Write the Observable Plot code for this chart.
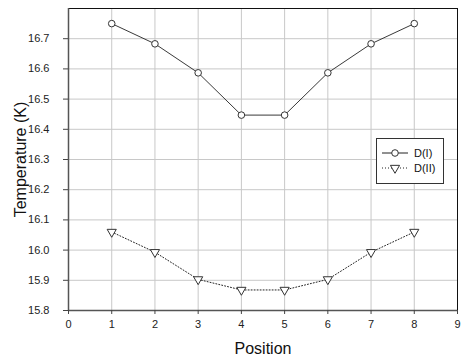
<!DOCTYPE html>
<html><head><meta charset="utf-8">
<script src="https://cdn.jsdelivr.net/npm/d3@7"></script>
<script src="https://cdn.jsdelivr.net/npm/@observablehq/plot@0.6"></script>
<style>
body{margin:0;background:#fff;}
#c{position:relative;width:461px;height:363px;font-family:"Liberation Sans",Arial,sans-serif;}
#legend{position:absolute;left:376px;top:138px;}
</style>
</head><body><div id="c"></div>
<script>
const positions = [1, 2, 3, 4, 5, 6, 7, 8];
const dI  = [16.75, 16.683, 16.587, 16.447, 16.447, 16.587, 16.683, 16.75];
const dII = [16.06, 15.993, 15.903, 15.868, 15.868, 15.903, 15.993, 16.06];
const xTicks = [0, 1, 2, 3, 4, 5, 6, 7, 8, 9];
const yTicks = [15.8, 15.9, 16.0, 16.1, 16.2, 16.3, 16.4, 16.5, 16.6, 16.7];
const seriesNames = ["D(I)", "D(II)"];

const rowsI = positions.map((p, i) => ({x: p, y: dI[i]}));
const rowsII = positions.map((p, i) => ({x: p, y: dII[i]}));

const chart = Plot.plot({
  width: 461, height: 363,
  marginLeft: 68, marginRight: 4, marginTop: 8, marginBottom: 53,
  style: {fontFamily: '"Liberation Sans", Arial, sans-serif', background: "#fff"},
  x: {domain: [0, 9]},
  y: {domain: [15.8, 16.8]},
  marks: [
    Plot.gridX(xTicks, {stroke: "#c8c8c8", strokeOpacity: 1}),
    Plot.gridY(yTicks, {stroke: "#c8c8c8", strokeOpacity: 1}),
    Plot.frame({stroke: "#111", strokeWidth: 1}),
    Plot.ruleX([0], {stroke: "#555", strokeWidth: 1.5}),
    Plot.ruleY([15.8], {stroke: "#555", strokeWidth: 1.5}),
    Plot.axisX(xTicks, {tickSize: 4, tickPadding: 6, fontSize: 11, fill: "#222", stroke: "#444", label: null}),
    Plot.axisY(yTicks, {tickSize: 5, tickPadding: 14, fontSize: 11, fill: "#222", stroke: "#444", label: null, tickFormat: d3.format(".1f")}),
    Plot.line(rowsI, {x: "x", y: "y", stroke: "#222", strokeWidth: 0.9}),
    Plot.line(rowsII, {x: "x", y: "y", stroke: "#222", strokeWidth: 1, strokeDasharray: "1,2"}),
    Plot.dot(rowsI, {x: "x", y: "y", symbol: "circle", r: 3.3, stroke: "#333", strokeWidth: 1, fill: "#fff"}),
    Plot.dot(rowsII, {x: "x", y: "y", symbol: "triangle", r: 3.4, rotate: 180, stroke: "#333", strokeWidth: 1, fill: "#fff"}),
    Plot.text(["Position"], {text: d => d, frameAnchor: "bottom", textAnchor: "middle", dy: 43, fontSize: 16, fill: "#111"}),
    Plot.text(["Temperature (K)"], {text: d => d, frameAnchor: "left", textAnchor: "middle", rotate: -90, dx: -48, fontSize: 16, fill: "#111"})
  ]
});
const c = document.getElementById("c");
c.appendChild(chart);

// legend
const lg = d3.select(c).append("svg").attr("id", "legend").attr("width", 68).attr("height", 46);
lg.append("rect").attr("x", 0.5).attr("y", 0.5).attr("width", 67).attr("height", 45)
  .attr("fill", "#fff").attr("stroke", "#333").attr("stroke-width", 1);
seriesNames.forEach((name, i) => {
  const yy = 15 + i * 15;
  lg.append("line").attr("x1", 6).attr("x2", 32).attr("y1", yy).attr("y2", yy)
    .attr("stroke", "#222").attr("stroke-width", 1).attr("stroke-dasharray", i ? "1,2" : null);
  if (i === 0) {
    lg.append("circle").attr("cx", 19).attr("cy", yy).attr("r", 3.3).attr("fill", "#fff").attr("stroke", "#333");
  } else {
    lg.append("path").attr("d", d3.symbol(d3.symbolTriangle, Math.PI * 3.4 * 3.4)())
      .attr("transform", `translate(19,${yy}) rotate(180)`).attr("fill", "#fff").attr("stroke", "#333");
  }
  lg.append("text").attr("x", 38).attr("y", yy + 4).attr("font-size", 11)
    .attr("font-family", '"Liberation Sans", Arial, sans-serif').attr("fill", "#111").text(name);
});
</script>
</body></html>
